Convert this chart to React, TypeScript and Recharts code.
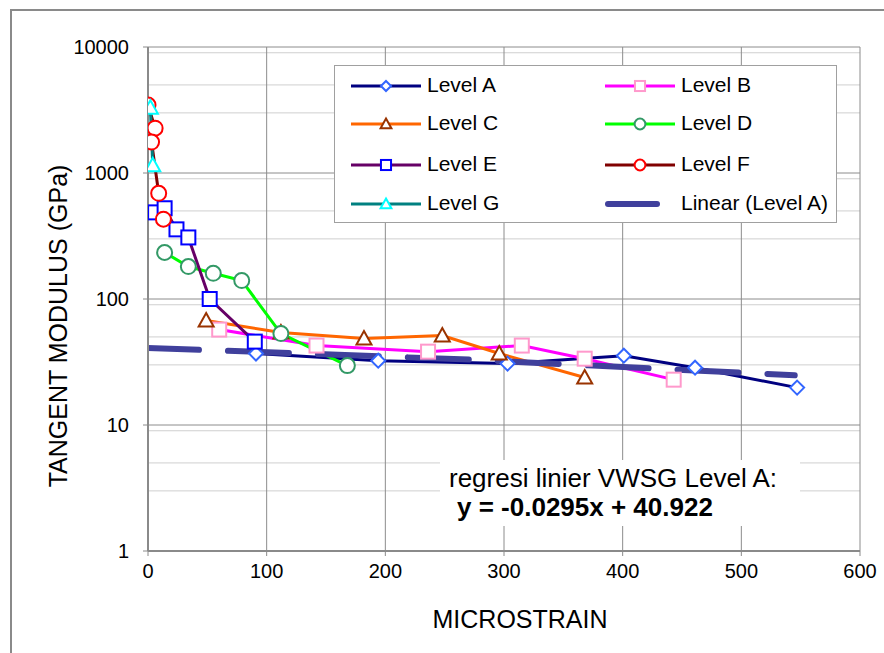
import { LineChart, Line, XAxis, YAxis, CartesianGrid } from 'recharts';

// values: [microstrain, tangent modulus (GPa)]
const levelA = [[91, 36.9], [194, 32.4], [303, 30.7], [401, 35.5], [461, 28.5], [547, 19.8]];
const levelB = [[60, 57.2], [142, 42.7], [236, 38.2], [315, 42.7], [368, 33.6], [443, 22.9]];
const levelC = [[49, 67.5], [112, 54.2], [182, 48.5], [248, 51.3], [296, 36.9], [368, 23.8]];
const levelD = [[14, 234], [34, 181], [55, 160], [79, 140], [112, 53.2], [168, 29.6]];
const levelE = [[6, 487], [14, 525], [24, 357], [34, 308], [52, 100], [90, 45.9]];
const levelF = [[0, 3460], [6, 2270], [3, 1760], [9, 690], [13, 430]];
const levelG = [[2, 3300], [4, 1150]];
const trendA = [[0, 40.9], [272, 33.0], [545, 24.8]];

const xTicks = [0, 100, 200, 300, 400, 500, 600];
const yTicks = [1, 10, 100, 1000, 10000];
const minorYTicks = [1, 10, 100, 1000].flatMap((d) => [2, 3, 4, 5, 6, 7, 8, 9].map((m) => m * d));

const FONT = '"Liberation Sans", Arial, sans-serif';

type Shape = 'diamond' | 'square' | 'triangle' | 'circle';

const toPoints = (arr: number[][]) => arr.map(([x, y]) => ({ x, y }));

function marker(shape: Shape, color: string, cx: number, cy: number, key?: string | number, k = 1) {
  const sw = 2;
  if (shape === 'diamond') {
    const r = 7 * k;
    return <path key={key} d={`M${cx},${cy - r}L${cx + r},${cy}L${cx},${cy + r}L${cx - r},${cy}Z`} fill="#fff" stroke={color} strokeWidth={sw} />;
  }
  if (shape === 'square') {
    const r = 7 * k;
    return <rect key={key} x={cx - r} y={cy - r} width={2 * r} height={2 * r} fill="#fff" stroke={color} strokeWidth={sw} />;
  }
  if (shape === 'triangle') {
    const r = 7.5 * k;
    return <path key={key} d={`M${cx},${cy - r}L${cx + r},${cy + r * 0.8}L${cx - r},${cy + r * 0.8}Z`} fill="#fff" stroke={color} strokeWidth={sw} />;
  }
  return <circle key={key} cx={cx} cy={cy} r={7.5 * k} fill="#fff" stroke={color} strokeWidth={sw} />;
}

const series = [
  { name: 'Level A', data: levelA, line: '#000080', mark: '#3366ff', shape: 'diamond' as Shape },
  { name: 'Level B', data: levelB, line: '#ff00ff', mark: '#ff99cc', shape: 'square' as Shape },
  { name: 'Level C', data: levelC, line: '#ff6600', mark: '#993300', shape: 'triangle' as Shape },
  { name: 'Level D', data: levelD, line: '#00ff00', mark: '#339966', shape: 'circle' as Shape },
  { name: 'Level E', data: levelE, line: '#660066', mark: '#0000ff', shape: 'square' as Shape },
  { name: 'Level F', data: levelF, line: '#800000', mark: '#ff0000', shape: 'circle' as Shape },
  { name: 'Level G', data: levelG, line: '#008080', mark: '#00ffff', shape: 'triangle' as Shape },
];

const TREND_COLOR = '#40409c';

function LegendBox() {
  const rowY = [20, 58, 99, 138];
  const items = [
    ...series.map((s) => ({ name: s.name, s })),
    { name: 'Linear (Level A)', s: null as null | (typeof series)[number] },
  ];
  return (
    <div
      style={{
        position: 'absolute',
        left: 334,
        top: 65,
        width: 503,
        height: 158,
        background: '#fff',
        border: '1px solid #a0a0a0',
        boxSizing: 'border-box',
        fontFamily: FONT,
        fontSize: 21,
      }}
    >
      {items.map((it, i) => {
        const col = i % 2;
        const row = Math.floor(i / 2);
        const iconLeft = col === 0 ? 15 : 269;
        const textLeft = col === 0 ? 92 : 346;
        const cy = rowY[row];
        return (
          <div key={it.name}>
            <svg style={{ position: 'absolute', left: iconLeft, top: cy - 10 }} width={72} height={20}>
              {it.s ? (
                <>
                  <line x1={1} y1={10} x2={71} y2={10} stroke={it.s.line} strokeWidth={3} />
                  {marker(it.s.shape, it.s.mark, 36, 10, undefined, 0.72)}
                </>
              ) : (
                <line x1={4} y1={10} x2={53} y2={10} stroke={TREND_COLOR} strokeWidth={6} strokeLinecap="round" />
              )}
            </svg>
            <div style={{ position: 'absolute', left: textLeft, top: cy - 13, lineHeight: '24px', color: '#000', whiteSpace: 'nowrap' }}>
              {it.name}
            </div>
          </div>
        );
      })}
    </div>
  );
}

export default function App() {
  return (
    <div style={{ position: 'absolute', left: 0, top: 0, width: 884, height: 653, overflow: 'hidden', background: '#fff' }}>
      <div style={{ position: 'absolute', left: 10, top: 9, width: 1000, height: 1000, border: '2px solid #8a8a8a' }} />
      <div style={{ position: 'absolute', left: 0, top: 0 }}>
        <LineChart width={884} height={653} margin={{ top: 47, right: 24, left: 8, bottom: 62 }}>
          <CartesianGrid horizontalValues={minorYTicks} vertical={false} stroke="#cfcfcf" strokeWidth={1} />
          <CartesianGrid stroke="#8c8c8c" strokeWidth={1} />
          <XAxis
            type="number"
            dataKey="x"
            domain={[0, 600]}
            ticks={xTicks}
            allowDataOverflow
            height={40}
            axisLine={{ stroke: '#8a8a8a', strokeWidth: 2 }}
            tickLine={{ stroke: '#8a8a8a' }}
            tickSize={5}
            tickMargin={8}
            tick={{ fontSize: 20, fill: '#000', fontFamily: FONT }}
          />
          <YAxis
            type="number"
            dataKey="y"
            scale="log"
            domain={[1, 10000]}
            ticks={yTicks}
            allowDataOverflow
            width={140}
            axisLine={{ stroke: '#8a8a8a', strokeWidth: 2 }}
            tickLine={{ stroke: '#8a8a8a' }}
            tickSize={5}
            tickMargin={14}
            tick={{ fontSize: 20, fill: '#000', fontFamily: FONT }}
          />
          {series.map((s) => (
            <Line
              key={s.name}
              data={toPoints(s.data)}
              dataKey="y"
              name={s.name}
              type="linear"
              stroke={s.line}
              strokeWidth={3}
              isAnimationActive={false}
              activeDot={false}
              dot={(p: any) => marker(s.shape, s.mark, p.cx, p.cy, `${s.name}-${p.index}`)}
            />
          ))}
          <Line
            data={toPoints(trendA)}
            dataKey="y"
            name="Linear (Level A)"
            type="linear"
            stroke={TREND_COLOR}
            strokeWidth={6}
            strokeLinecap="round"
            strokeDasharray="61 29"
            strokeDashoffset={10}
            dot={false}
            activeDot={false}
            isAnimationActive={false}
          />
        </LineChart>
      </div>
      <LegendBox />
      <div style={{ position: 'absolute', left: 440, top: 460, width: 360, height: 66, background: '#fff' }} />
      <svg style={{ position: 'absolute', left: 0, top: 0 }} width={884} height={653}>
        <text x={449} y={487} fontFamily={FONT} fontSize={26} fill="#000">
          regresi linier VWSG Level A:
        </text>
        <text x={457} y={516} fontFamily={FONT} fontSize={26} fontWeight="bold" fill="#000">
          y = -0.0295x + 40.922
        </text>
        <text x={520} y={628} fontFamily={FONT} fontSize={25} fill="#000" textAnchor="middle">
          MICROSTRAIN
        </text>
        <text transform="translate(67,326) rotate(-90)" fontFamily={FONT} fontSize={25} fill="#000" textAnchor="middle">
          TANGENT MODULUS (GPa)
        </text>
      </svg>
    </div>
  );
}
